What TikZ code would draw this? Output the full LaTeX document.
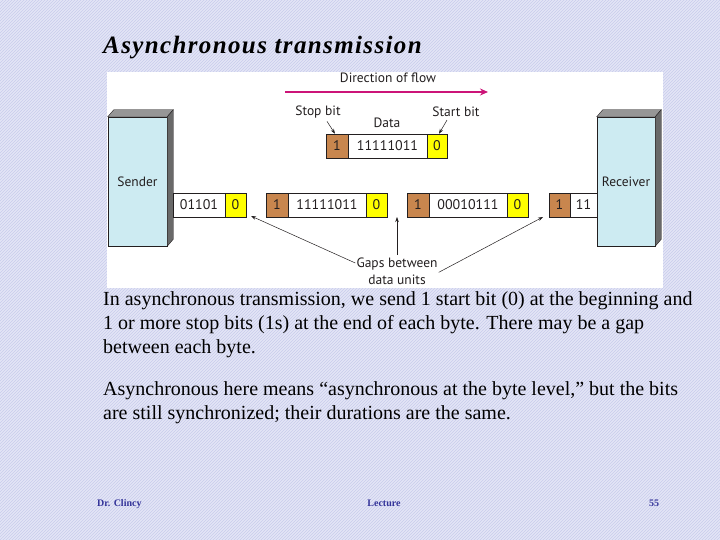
\documentclass[tikz,border=0pt]{standalone}
\usepackage{fontspec}
\setmainfont{Liberation Serif}
\newfontfamily\diagfont{PT Sans}
\newfontfamily\titlefont[LetterSpace=5.5]{Liberation Serif}
\usetikzlibrary{arrows.meta,patterns,calc}
\definecolor{bgc}{RGB}{228,230,246}
\definecolor{hatch}{RGB}{200,204,236}
\definecolor{boxblue}{RGB}{205,235,242}
\definecolor{topgray}{RGB}{150,150,150}
\definecolor{sidegray}{RGB}{105,105,105}
\definecolor{brownbit}{RGB}{200,134,78}
\definecolor{yellowbit}{RGB}{255,255,0}
\definecolor{flowc}{RGB}{204,20,120}
\definecolor{footc}{RGB}{51,51,153}
\definecolor{ink}{RGB}{35,31,32}
\begin{document}
\begin{tikzpicture}[x=1pt,y=-1pt,
  cell/.style={draw=ink, line width=0.5pt, minimum height=24pt, inner sep=0pt, text=ink,
    font=\diagfont\fontsize{14}{16}\selectfont},
  whitecell/.style={cell, fill=white},
  browncell/.style={cell, fill=brownbit, minimum width=22pt},
  yellowcell/.style={cell, fill=yellowbit, minimum width=21pt},
  station/.style={draw=ink, line width=0.5pt, fill=boxblue, minimum width=58pt, minimum height=129pt,
    inner sep=0pt, text=ink, font=\diagfont\fontsize{13.5}{15}\selectfont},
  lbl/.style={inner sep=0pt, text=ink, font=\diagfont\fontsize{13.5}{15}\selectfont},
  thinarrow/.style={draw=ink, line width=0.5pt, -{Stealth[length=5pt,width=3.5pt]}},
  flow/.style={draw=flowc, line width=1.6pt, -{Stealth[length=8pt,width=7pt]}},
  bodytext/.style={anchor=base west, inner sep=0pt, font=\fontsize{20}{22}\selectfont},
  foot/.style={anchor=base, inner sep=0pt, text=footc, font=\fontsize{10}{12}\selectfont\bfseries}
]
\useasboundingbox (0,0) rectangle (720,540);
\fill[bgc] (0,0) rectangle (720,540);
\fill[pattern=north east lines, pattern color=hatch] (0,0) rectangle (720,540);
\fill[white] (107,72) rectangle (663,288);

% title
\node[anchor=base west, inner sep=0pt, font=\titlefont\fontsize{25}{28}\selectfont\bfseries\itshape] (title) at (103,54) {Asynchronous transmission};

% stations
\node[station, minimum width=59pt] (sender) at (137.5,181.5) {Sender};
\fill[topgray, draw=ink, line width=0.4pt] (sender.north west) -- ++(6,-7) -- ($(sender.north east)+(6,-7)$) -- (sender.north east) -- cycle;
\fill[sidegray, draw=ink, line width=0.4pt] (sender.north east) -- ++(6,-7) -- ($(sender.south east)+(6,-7)$) -- (sender.south east) -- cycle;

\node[station] (receiver) at (626,181.5) {Receiver};
\fill[topgray, draw=ink, line width=0.4pt] (receiver.north west) -- ++(6,-7) -- ($(receiver.north east)+(6,-7)$) -- (receiver.north east) -- cycle;
\fill[sidegray, draw=ink, line width=0.4pt] (receiver.north east) -- ++(6,-7) -- ($(receiver.south east)+(6,-7)$) -- (receiver.south east) -- cycle;

% bottom stream
\node[whitecell, minimum width=52pt] (s1) at (199,205) {01101};
\node[yellowcell] (s2) at (235.5,205) {0};
\node[browncell] (a1) at (277,205) {1};
\node[whitecell, minimum width=78pt] (a2) at (327,205) {11111011};
\node[yellowcell] (a3) at (376.5,205) {0};
\node[browncell] (b1) at (418,205) {1};
\node[whitecell, minimum width=78pt] (b2) at (468,205) {00010111};
\node[yellowcell] (b3) at (517.5,205) {0};
\node[browncell, minimum width=21pt] (c1) at (559.5,205) {1};
\node[whitecell, minimum width=27pt] (c2) at (583.5,205) {11};

% top unit
\node[browncell] (t1) at (337,146) {1};
\node[whitecell, minimum width=79pt] (t2) at (387.5,146) {11111011};
\node[yellowcell, minimum width=20pt] (t3) at (437,146) {0};

% labels
\node[lbl] (dir) at (388,78) {Direction of flow};
\coordinate (d1) at (285,92);
\coordinate (d2) at (488,92);
\draw[flow] (d1) -- (d2);

\node[lbl] (stop) at (318,112) {Stop bit};
\node[lbl] (data) at (387,123) {Data};
\node[lbl] (start) at (456,112) {Start bit};
\draw[thinarrow] ($(stop.south)+(9,3)$) -- ($(t1.north)+(-2,0)$);
\draw[thinarrow] ($(start.south)+(-9,3)$) -- ($(t3.north)+(2,0)$);

\node[lbl] (gap1) at (397,264) {Gaps between};
\node[lbl] (gap2) at (397,280) {data units};
\coordinate (gl) at (251,216);
\coordinate (gm) at (397,217);
\coordinate (gr) at (543,217);
\draw[thinarrow] ($(gap1.west)+(-1,-1)$) -- (gl);
\draw[thinarrow] ($(gap1.north)+(0,-3)$) -- (gm);
\draw[thinarrow] ($(gap1.south east)+(1,2)$) -- (gr);

% body text
\node[bodytext] (p1) at (103,305) {In asynchronous transmission, we send 1 start bit (0) at the beginning and};
\node[bodytext] (p2) at (103,329) {1 or more stop bits (1s) at the end of each byte. There may be a gap};
\node[bodytext] (p3) at (103,353) {between each byte.};
\node[bodytext] (q1) at (103,395) {Asynchronous here means “asynchronous at the byte level,” but the bits};
\node[bodytext] (q2) at (103,419) {are still synchronized; their durations are the same.};

% footer
\node[foot, anchor=base west] (f1) at (97,506) {Dr. Clincy};
\node[foot] (f2) at (384,506) {Lecture};
\node[foot] (f3) at (654,506) {55};
\end{tikzpicture}
\end{document}
